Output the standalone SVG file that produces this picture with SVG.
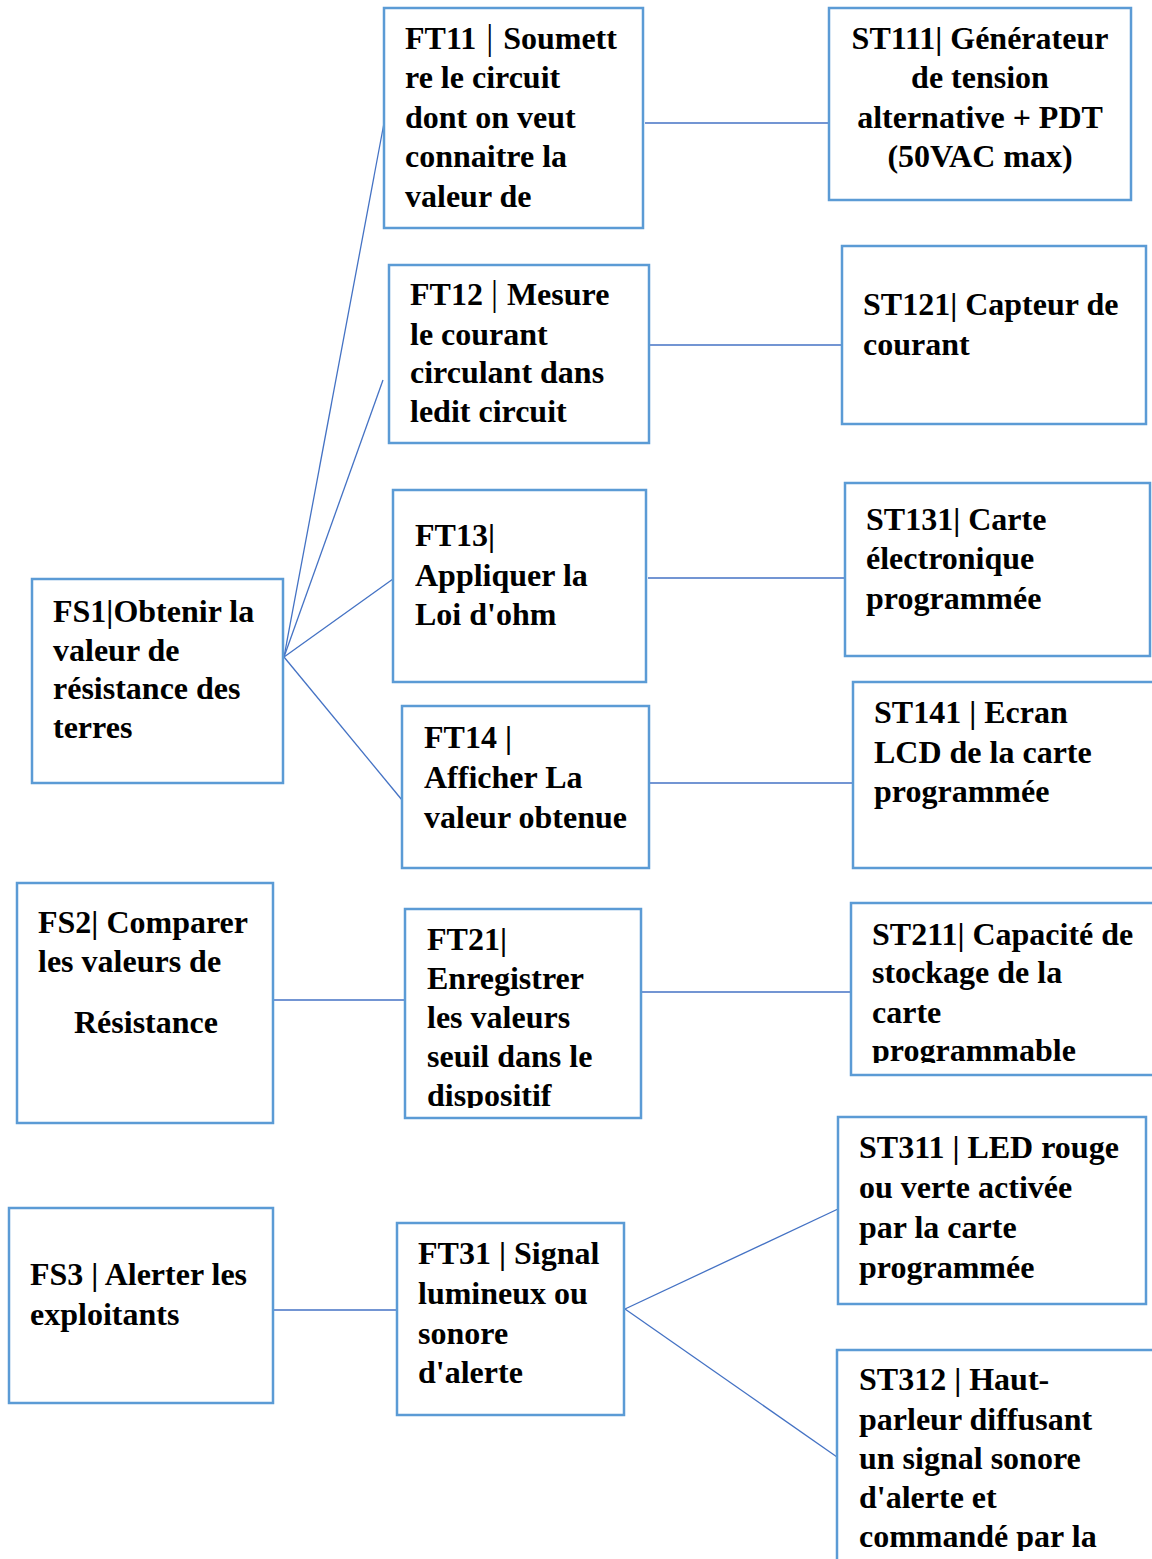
<svg xmlns="http://www.w3.org/2000/svg" width="1152" height="1559" viewBox="0 0 1152 1559">
  <style>
    .box { fill: #ffffff; stroke: #5b9bd5; stroke-width: 2.5; }
    .link { fill: none; stroke: #4472c4; stroke-width: 1.3; }
    .lbl { font-family: "Liberation Serif", "Times New Roman", serif; font-weight: bold; font-size: 32px; fill: #000000; }
    .mid { text-anchor: middle; }
    .bar { font-weight: normal; font-size: 35px; }
  </style>
  <defs>
    <clipPath id="clipFT21"><rect x="405" y="910" width="235" height="198"/></clipPath>
    <clipPath id="clipST211"><rect x="851" y="904" width="301" height="159"/></clipPath>
    <clipPath id="clipST312"><rect x="838" y="1351" width="314" height="200"/></clipPath>
  </defs>
  <rect width="1152" height="1559" fill="#ffffff"/>

  <g id="connectors">
    <line class="link" x1="284" y1="657" x2="384" y2="123"/>
    <line class="link" x1="284" y1="657" x2="383" y2="380"/>
    <line class="link" x1="284" y1="657" x2="393" y2="579"/>
    <line class="link" x1="284" y1="657" x2="402" y2="800"/>
    <line class="link" x1="645" y1="123" x2="829" y2="123"/>
    <line class="link" x1="650" y1="345" x2="846" y2="345"/>
    <line class="link" x1="648" y1="578" x2="845" y2="578"/>
    <line class="link" x1="650" y1="783" x2="853" y2="783"/>
    <line class="link" x1="274" y1="1000" x2="405" y2="1000"/>
    <line class="link" x1="642" y1="992" x2="851" y2="992"/>
    <line class="link" x1="274" y1="1310" x2="397" y2="1310"/>
    <line class="link" x1="625" y1="1309" x2="838" y2="1209"/>
    <line class="link" x1="625" y1="1309" x2="837" y2="1457"/>
  </g>

  <g id="FT11">
    <rect class="box" x="384" y="8" width="259" height="220"/>
    <text class="lbl" x="405" y="49">FT11 <tspan class="bar" dx="2">|</tspan><tspan dx="2"> Soumett</tspan></text>
    <text class="lbl" x="405" y="88">re le circuit</text>
    <text class="lbl" x="405" y="128">dont on veut</text>
    <text class="lbl" x="405" y="167">connaitre la</text>
    <text class="lbl" x="405" y="207">valeur de</text>
  </g>

  <g id="ST111">
    <rect class="box" x="829" y="8" width="302" height="192"/>
    <text class="lbl mid" x="980" y="49">ST111| Générateur</text>
    <text class="lbl mid" x="980" y="88">de tension</text>
    <text class="lbl mid" x="980" y="128">alternative + PDT</text>
    <text class="lbl mid" x="980" y="167">(50VAC max)</text>
  </g>

  <g id="FT12">
    <rect class="box" x="389" y="265" width="260" height="178"/>
    <text class="lbl" x="410" y="305">FT12<tspan class="bar" dx="8">|</tspan><tspan dx="1">  Mesure</tspan></text>
    <text class="lbl" x="410" y="345">le courant</text>
    <text class="lbl" x="410" y="383">circulant dans</text>
    <text class="lbl" x="410" y="422">ledit circuit</text>
  </g>

  <g id="ST121">
    <rect class="box" x="842" y="246" width="304" height="178"/>
    <text class="lbl" x="863" y="315">ST121| Capteur de</text>
    <text class="lbl" x="863" y="355">courant</text>
  </g>

  <g id="FT13">
    <rect class="box" x="393" y="490" width="253" height="192"/>
    <text class="lbl" x="415" y="546">FT13|</text>
    <text class="lbl" x="415" y="586">Appliquer la</text>
    <text class="lbl" x="415" y="625">Loi d'ohm</text>
  </g>

  <g id="ST131">
    <rect class="box" x="845" y="483" width="305" height="173"/>
    <text class="lbl" x="866" y="530">ST131| Carte</text>
    <text class="lbl" x="866" y="569">électronique</text>
    <text class="lbl" x="866" y="609">programmée</text>
  </g>

  <g id="FS1">
    <rect class="box" x="32" y="579" width="251" height="204"/>
    <text class="lbl" x="53" y="622">FS1|Obtenir la</text>
    <text class="lbl" x="53" y="661">valeur de</text>
    <text class="lbl" x="53" y="699">résistance des</text>
    <text class="lbl" x="53" y="738">terres</text>
  </g>

  <g id="FT14">
    <rect class="box" x="402" y="706" width="247" height="162"/>
    <text class="lbl" x="424" y="748">FT14 |</text>
    <text class="lbl" x="424" y="788">Afficher La</text>
    <text class="lbl" x="424" y="828">valeur obtenue</text>
  </g>

  <g id="ST141">
    <rect class="box" x="853" y="682" width="310" height="186"/>
    <text class="lbl" x="874" y="723">ST141 | Ecran</text>
    <text class="lbl" x="874" y="763">LCD de la carte</text>
    <text class="lbl" x="874" y="802">programmée</text>
  </g>

  <g id="FS2">
    <rect class="box" x="17" y="883" width="256" height="240"/>
    <text class="lbl" x="38" y="933">FS2| Comparer</text>
    <text class="lbl" x="38" y="972">les valeurs de</text>
    <text class="lbl" x="74" y="1033">Résistance</text>
  </g>

  <g id="FT21">
    <rect class="box" x="405" y="909" width="236" height="209"/>
    <g clip-path="url(#clipFT21)">
      <text class="lbl" x="427" y="950">FT21|</text>
      <text class="lbl" x="427" y="989">Enregistrer</text>
      <text class="lbl" x="427" y="1028">les valeurs</text>
      <text class="lbl" x="427" y="1067">seuil dans le</text>
      <text class="lbl" x="427" y="1106">dispositif</text>
    </g>
  </g>

  <g id="ST211">
    <rect class="box" x="851" y="903" width="310" height="172"/>
    <g clip-path="url(#clipST211)">
      <text class="lbl" x="872" y="945">ST211| Capacité de</text>
      <text class="lbl" x="872" y="983">stockage de la</text>
      <text class="lbl" x="872" y="1023">carte</text>
      <text class="lbl" x="872" y="1061">programmable</text>
    </g>
  </g>

  <g id="ST311">
    <rect class="box" x="838" y="1117" width="308" height="187"/>
    <text class="lbl" x="859" y="1158">ST311 | LED rouge</text>
    <text class="lbl" x="859" y="1198">ou verte activée</text>
    <text class="lbl" x="859" y="1238">par la carte</text>
    <text class="lbl" x="859" y="1278">programmée</text>
  </g>

  <g id="FS3">
    <rect class="box" x="9" y="1208" width="264" height="195"/>
    <text class="lbl" x="30" y="1285">FS3 | Alerter les</text>
    <text class="lbl" x="30" y="1325">exploitants</text>
  </g>

  <g id="FT31">
    <rect class="box" x="397" y="1223" width="227" height="192"/>
    <text class="lbl" x="418" y="1264">FT31 | Signal</text>
    <text class="lbl" x="418" y="1304">lumineux ou</text>
    <text class="lbl" x="418" y="1344">sonore</text>
    <text class="lbl" x="418" y="1383">d'alerte</text>
  </g>

  <g id="ST312">
    <rect class="box" x="837" y="1350" width="320" height="230"/>
    <g clip-path="url(#clipST312)">
      <text class="lbl" x="859" y="1390">ST312 | Haut-</text>
      <text class="lbl" x="859" y="1430">parleur diffusant</text>
      <text class="lbl" x="859" y="1469">un signal sonore</text>
      <text class="lbl" x="859" y="1508">d'alerte et</text>
      <text class="lbl" x="859" y="1547">commandé par la</text>
    </g>
  </g>
</svg>
